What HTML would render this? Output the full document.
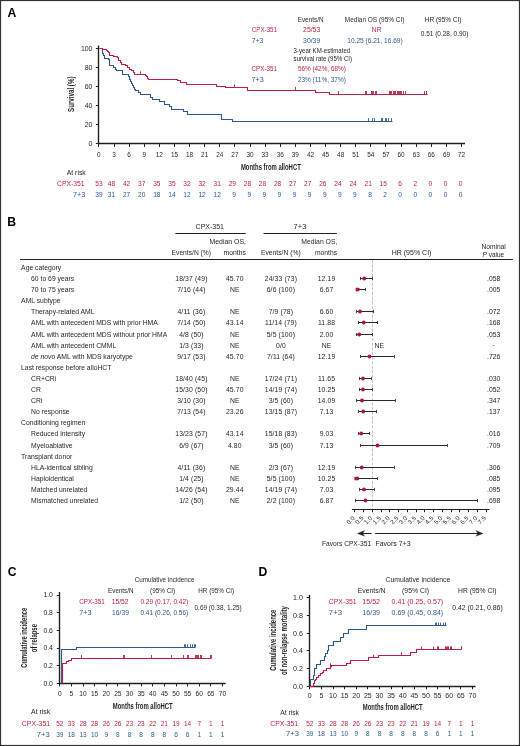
<!DOCTYPE html>
<html><head><meta charset="utf-8"><style>
html,body{margin:0;padding:0;background:#fff;}
svg{display:block;will-change:transform;filter:blur(0.35px);}
text{font-family:"Liberation Sans", sans-serif;}
</style></head><body>
<svg width="520" height="746" viewBox="0 0 520 746">
<rect width="520" height="746" fill="#fff"/>
<text x="7.40" y="16.50" font-size="12.2" fill="#000" font-weight="bold">A</text>
<text x="297.70" y="21.60" font-size="6.5" fill="#231f20" textLength="25.80" lengthAdjust="spacingAndGlyphs">Events/N</text>
<text x="344.80" y="21.60" font-size="6.5" fill="#231f20" textLength="59.70" lengthAdjust="spacingAndGlyphs">Median OS (95% CI)</text>
<text x="424.80" y="21.60" font-size="6.5" fill="#231f20" textLength="36.70" lengthAdjust="spacingAndGlyphs">HR (95% CI)</text>
<text x="251.70" y="31.90" font-size="6.5" fill="#bd1f40" textLength="25.40" lengthAdjust="spacingAndGlyphs">CPX-351</text>
<text x="303.10" y="31.90" font-size="6.5" fill="#bd1f40" textLength="17.10" lengthAdjust="spacingAndGlyphs">25/53</text>
<text x="371.80" y="31.90" font-size="6.5" fill="#bd1f40" textLength="9.70" lengthAdjust="spacingAndGlyphs">NR</text>
<text x="251.70" y="42.70" font-size="6.5" fill="#2e5990" textLength="11.60" lengthAdjust="spacingAndGlyphs">7+3</text>
<text x="303.10" y="42.70" font-size="6.5" fill="#2e5990" textLength="17.10" lengthAdjust="spacingAndGlyphs">30/39</text>
<text x="347.30" y="42.70" font-size="6.5" fill="#2e5990" textLength="55.40" lengthAdjust="spacingAndGlyphs">10.25 (6.21, 16.69)</text>
<text x="420.80" y="35.70" font-size="6.5" fill="#231f20" textLength="47.50" lengthAdjust="spacingAndGlyphs">0.51 (0.28, 0.90)</text>
<text x="293.60" y="53.10" font-size="6.5" fill="#231f20" textLength="56.60" lengthAdjust="spacingAndGlyphs">3-year KM-estimated</text>
<text x="293.60" y="60.90" font-size="6.5" fill="#231f20" textLength="58.50" lengthAdjust="spacingAndGlyphs">survival rate (95% CI)</text>
<text x="251.60" y="70.90" font-size="6.5" fill="#bd1f40" textLength="25.40" lengthAdjust="spacingAndGlyphs">CPX-351</text>
<text x="297.90" y="71.00" font-size="6.5" fill="#bd1f40" textLength="47.90" lengthAdjust="spacingAndGlyphs">56% (42%, 68%)</text>
<text x="251.60" y="81.50" font-size="6.5" fill="#2e5990" textLength="12.20" lengthAdjust="spacingAndGlyphs">7+3</text>
<text x="297.90" y="81.50" font-size="6.5" fill="#2e5990" textLength="47.90" lengthAdjust="spacingAndGlyphs">23% (11%, 37%)</text>
<line x1="98.50" y1="45.50" x2="98.50" y2="144.40" stroke="#231f20" stroke-width="1.4"/>
<line x1="98.30" y1="143.50" x2="465.00" y2="143.50" stroke="#231f20" stroke-width="1.4"/>
<line x1="95.90" y1="143.50" x2="98.90" y2="143.50" stroke="#231f20" stroke-width="1.0"/>
<text x="92.40" y="146.10" font-size="6.9" fill="#231f20" text-anchor="end">0</text>
<line x1="95.90" y1="124.50" x2="98.90" y2="124.50" stroke="#231f20" stroke-width="1.0"/>
<text x="92.40" y="127.00" font-size="6.9" fill="#231f20" text-anchor="end">20</text>
<line x1="95.90" y1="105.50" x2="98.90" y2="105.50" stroke="#231f20" stroke-width="1.0"/>
<text x="92.40" y="107.90" font-size="6.9" fill="#231f20" text-anchor="end">40</text>
<line x1="95.90" y1="86.50" x2="98.90" y2="86.50" stroke="#231f20" stroke-width="1.0"/>
<text x="92.40" y="88.80" font-size="6.9" fill="#231f20" text-anchor="end">60</text>
<line x1="95.90" y1="67.50" x2="98.90" y2="67.50" stroke="#231f20" stroke-width="1.0"/>
<text x="92.40" y="69.70" font-size="6.9" fill="#231f20" text-anchor="end">80</text>
<line x1="95.90" y1="48.50" x2="98.90" y2="48.50" stroke="#231f20" stroke-width="1.0"/>
<text x="92.40" y="50.60" font-size="6.9" fill="#231f20" text-anchor="end">100</text>
<line x1="98.50" y1="143.90" x2="98.50" y2="146.90" stroke="#231f20" stroke-width="1.0"/>
<text x="98.90" y="156.60" font-size="6.4" fill="#231f20" text-anchor="middle">0</text>
<line x1="114.50" y1="143.90" x2="114.50" y2="146.90" stroke="#231f20" stroke-width="1.0"/>
<text x="114.01" y="156.60" font-size="6.4" fill="#231f20" text-anchor="middle">3</text>
<line x1="129.50" y1="143.90" x2="129.50" y2="146.90" stroke="#231f20" stroke-width="1.0"/>
<text x="129.12" y="156.60" font-size="6.4" fill="#231f20" text-anchor="middle">6</text>
<line x1="144.50" y1="143.90" x2="144.50" y2="146.90" stroke="#231f20" stroke-width="1.0"/>
<text x="144.23" y="156.60" font-size="6.4" fill="#231f20" text-anchor="middle">9</text>
<line x1="159.50" y1="143.90" x2="159.50" y2="146.90" stroke="#231f20" stroke-width="1.0"/>
<text x="159.34" y="156.60" font-size="6.4" fill="#231f20" text-anchor="middle">12</text>
<line x1="174.50" y1="143.90" x2="174.50" y2="146.90" stroke="#231f20" stroke-width="1.0"/>
<text x="174.45" y="156.60" font-size="6.4" fill="#231f20" text-anchor="middle">15</text>
<line x1="189.50" y1="143.90" x2="189.50" y2="146.90" stroke="#231f20" stroke-width="1.0"/>
<text x="189.56" y="156.60" font-size="6.4" fill="#231f20" text-anchor="middle">18</text>
<line x1="204.50" y1="143.90" x2="204.50" y2="146.90" stroke="#231f20" stroke-width="1.0"/>
<text x="204.67" y="156.60" font-size="6.4" fill="#231f20" text-anchor="middle">21</text>
<line x1="219.50" y1="143.90" x2="219.50" y2="146.90" stroke="#231f20" stroke-width="1.0"/>
<text x="219.78" y="156.60" font-size="6.4" fill="#231f20" text-anchor="middle">24</text>
<line x1="234.50" y1="143.90" x2="234.50" y2="146.90" stroke="#231f20" stroke-width="1.0"/>
<text x="234.89" y="156.60" font-size="6.4" fill="#231f20" text-anchor="middle">27</text>
<line x1="250.50" y1="143.90" x2="250.50" y2="146.90" stroke="#231f20" stroke-width="1.0"/>
<text x="250.00" y="156.60" font-size="6.4" fill="#231f20" text-anchor="middle">30</text>
<line x1="265.50" y1="143.90" x2="265.50" y2="146.90" stroke="#231f20" stroke-width="1.0"/>
<text x="265.11" y="156.60" font-size="6.4" fill="#231f20" text-anchor="middle">33</text>
<line x1="280.50" y1="143.90" x2="280.50" y2="146.90" stroke="#231f20" stroke-width="1.0"/>
<text x="280.22" y="156.60" font-size="6.4" fill="#231f20" text-anchor="middle">36</text>
<line x1="295.50" y1="143.90" x2="295.50" y2="146.90" stroke="#231f20" stroke-width="1.0"/>
<text x="295.33" y="156.60" font-size="6.4" fill="#231f20" text-anchor="middle">39</text>
<line x1="310.50" y1="143.90" x2="310.50" y2="146.90" stroke="#231f20" stroke-width="1.0"/>
<text x="310.44" y="156.60" font-size="6.4" fill="#231f20" text-anchor="middle">42</text>
<line x1="325.50" y1="143.90" x2="325.50" y2="146.90" stroke="#231f20" stroke-width="1.0"/>
<text x="325.55" y="156.60" font-size="6.4" fill="#231f20" text-anchor="middle">45</text>
<line x1="340.50" y1="143.90" x2="340.50" y2="146.90" stroke="#231f20" stroke-width="1.0"/>
<text x="340.66" y="156.60" font-size="6.4" fill="#231f20" text-anchor="middle">48</text>
<line x1="355.50" y1="143.90" x2="355.50" y2="146.90" stroke="#231f20" stroke-width="1.0"/>
<text x="355.77" y="156.60" font-size="6.4" fill="#231f20" text-anchor="middle">51</text>
<line x1="370.50" y1="143.90" x2="370.50" y2="146.90" stroke="#231f20" stroke-width="1.0"/>
<text x="370.88" y="156.60" font-size="6.4" fill="#231f20" text-anchor="middle">54</text>
<line x1="385.50" y1="143.90" x2="385.50" y2="146.90" stroke="#231f20" stroke-width="1.0"/>
<text x="385.99" y="156.60" font-size="6.4" fill="#231f20" text-anchor="middle">57</text>
<line x1="401.50" y1="143.90" x2="401.50" y2="146.90" stroke="#231f20" stroke-width="1.0"/>
<text x="401.10" y="156.60" font-size="6.4" fill="#231f20" text-anchor="middle">60</text>
<line x1="416.50" y1="143.90" x2="416.50" y2="146.90" stroke="#231f20" stroke-width="1.0"/>
<text x="416.21" y="156.60" font-size="6.4" fill="#231f20" text-anchor="middle">63</text>
<line x1="431.50" y1="143.90" x2="431.50" y2="146.90" stroke="#231f20" stroke-width="1.0"/>
<text x="431.32" y="156.60" font-size="6.4" fill="#231f20" text-anchor="middle">66</text>
<line x1="446.50" y1="143.90" x2="446.50" y2="146.90" stroke="#231f20" stroke-width="1.0"/>
<text x="446.43" y="156.60" font-size="6.4" fill="#231f20" text-anchor="middle">69</text>
<line x1="461.50" y1="143.90" x2="461.50" y2="146.90" stroke="#231f20" stroke-width="1.0"/>
<text x="461.54" y="156.60" font-size="6.4" fill="#231f20" text-anchor="middle">72</text>
<text x="240.90" y="169.90" font-size="9.0" fill="#231f20" textLength="59.90" lengthAdjust="spacingAndGlyphs" font-weight="bold">Months from alloHCT</text>
<text x="74.20" y="112.00" font-size="9.4" fill="#231f20" textLength="35.50" lengthAdjust="spacingAndGlyphs" font-weight="bold" transform="rotate(-90 74.20 112.00)">Survival (%)</text>
<text x="66.70" y="174.80" font-size="6.6" fill="#231f20" textLength="19.10" lengthAdjust="spacingAndGlyphs">At risk</text>
<text x="57.10" y="186.10" font-size="6.6" fill="#bd1f40" textLength="27.50" lengthAdjust="spacingAndGlyphs">CPX-351</text>
<text x="72.90" y="196.90" font-size="6.6" fill="#2e5990" textLength="12.30" lengthAdjust="spacingAndGlyphs">7+3</text>
<text x="98.90" y="185.90" font-size="6.6" fill="#bd1f40" text-anchor="middle">53</text>
<text x="98.90" y="196.80" font-size="6.6" fill="#2e5990" text-anchor="middle">39</text>
<text x="115.20" y="185.90" font-size="6.6" fill="#bd1f40" text-anchor="end">48</text>
<text x="115.20" y="196.80" font-size="6.6" fill="#2e5990" text-anchor="end">31</text>
<text x="130.30" y="185.90" font-size="6.6" fill="#bd1f40" text-anchor="end">42</text>
<text x="130.30" y="196.80" font-size="6.6" fill="#2e5990" text-anchor="end">27</text>
<text x="145.39" y="185.90" font-size="6.6" fill="#bd1f40" text-anchor="end">37</text>
<text x="145.39" y="196.80" font-size="6.6" fill="#2e5990" text-anchor="end">20</text>
<text x="160.49" y="185.90" font-size="6.6" fill="#bd1f40" text-anchor="end">35</text>
<text x="160.49" y="196.80" font-size="6.6" fill="#2e5990" text-anchor="end">18</text>
<text x="175.59" y="185.90" font-size="6.6" fill="#bd1f40" text-anchor="end">35</text>
<text x="175.59" y="196.80" font-size="6.6" fill="#2e5990" text-anchor="end">14</text>
<text x="190.69" y="185.90" font-size="6.6" fill="#bd1f40" text-anchor="end">32</text>
<text x="190.69" y="196.80" font-size="6.6" fill="#2e5990" text-anchor="end">12</text>
<text x="205.78" y="185.90" font-size="6.6" fill="#bd1f40" text-anchor="end">32</text>
<text x="205.78" y="196.80" font-size="6.6" fill="#2e5990" text-anchor="end">12</text>
<text x="220.88" y="185.90" font-size="6.6" fill="#bd1f40" text-anchor="end">31</text>
<text x="220.88" y="196.80" font-size="6.6" fill="#2e5990" text-anchor="end">12</text>
<text x="235.98" y="185.90" font-size="6.6" fill="#bd1f40" text-anchor="end">29</text>
<text x="235.98" y="196.80" font-size="6.6" fill="#2e5990" text-anchor="end">9</text>
<text x="251.07" y="185.90" font-size="6.6" fill="#bd1f40" text-anchor="end">28</text>
<text x="251.07" y="196.80" font-size="6.6" fill="#2e5990" text-anchor="end">9</text>
<text x="266.17" y="185.90" font-size="6.6" fill="#bd1f40" text-anchor="end">28</text>
<text x="266.17" y="196.80" font-size="6.6" fill="#2e5990" text-anchor="end">9</text>
<text x="281.27" y="185.90" font-size="6.6" fill="#bd1f40" text-anchor="end">28</text>
<text x="281.27" y="196.80" font-size="6.6" fill="#2e5990" text-anchor="end">9</text>
<text x="296.36" y="185.90" font-size="6.6" fill="#bd1f40" text-anchor="end">27</text>
<text x="296.36" y="196.80" font-size="6.6" fill="#2e5990" text-anchor="end">9</text>
<text x="311.46" y="185.90" font-size="6.6" fill="#bd1f40" text-anchor="end">27</text>
<text x="311.46" y="196.80" font-size="6.6" fill="#2e5990" text-anchor="end">9</text>
<text x="326.56" y="185.90" font-size="6.6" fill="#bd1f40" text-anchor="end">26</text>
<text x="326.56" y="196.80" font-size="6.6" fill="#2e5990" text-anchor="end">9</text>
<text x="341.66" y="185.90" font-size="6.6" fill="#bd1f40" text-anchor="end">24</text>
<text x="341.66" y="196.80" font-size="6.6" fill="#2e5990" text-anchor="end">9</text>
<text x="356.75" y="185.90" font-size="6.6" fill="#bd1f40" text-anchor="end">24</text>
<text x="356.75" y="196.80" font-size="6.6" fill="#2e5990" text-anchor="end">9</text>
<text x="371.85" y="185.90" font-size="6.6" fill="#bd1f40" text-anchor="end">21</text>
<text x="371.85" y="196.80" font-size="6.6" fill="#2e5990" text-anchor="end">8</text>
<text x="386.95" y="185.90" font-size="6.6" fill="#bd1f40" text-anchor="end">15</text>
<text x="386.95" y="196.80" font-size="6.6" fill="#2e5990" text-anchor="end">2</text>
<text x="402.04" y="185.90" font-size="6.6" fill="#bd1f40" text-anchor="end">6</text>
<text x="402.04" y="196.80" font-size="6.6" fill="#2e5990" text-anchor="end">0</text>
<text x="417.14" y="185.90" font-size="6.6" fill="#bd1f40" text-anchor="end">2</text>
<text x="417.14" y="196.80" font-size="6.6" fill="#2e5990" text-anchor="end">0</text>
<text x="432.24" y="185.90" font-size="6.6" fill="#bd1f40" text-anchor="end">0</text>
<text x="432.24" y="196.80" font-size="6.6" fill="#2e5990" text-anchor="end">0</text>
<text x="447.33" y="185.90" font-size="6.6" fill="#bd1f40" text-anchor="end">0</text>
<text x="447.33" y="196.80" font-size="6.6" fill="#2e5990" text-anchor="end">0</text>
<text x="462.43" y="185.90" font-size="6.6" fill="#bd1f40" text-anchor="end">0</text>
<text x="462.43" y="196.80" font-size="6.6" fill="#2e5990" text-anchor="end">0</text>
<path d="M99.50,48.50 L101.50,48.50 H102.50 V50.50 H102.50 V53.50 H103.50 V55.50 H104.50 V58.50 L107.50,58.50 H108.50 V59.50 H109.50 V62.50 H109.50 V64.50 L109.50,65.50 L113.50,65.50 L113.50,67.50 H115.50 V69.50 H116.50 V70.50 L121.50,70.50 H122.50 V72.50 H122.50 V74.50 H128.50 V75.50 L128.50,76.50 H129.50 V79.50 H130.50 V81.50 H131.50 V83.50 H132.50 V85.50 H133.50 V87.50 H134.50 V89.50 H135.50 V90.50 H138.50 V92.50 H140.50 V94.50 L150.50,94.50 L150.50,97.50 H152.50 V99.50 L155.50,99.50 L159.50,99.50 L159.50,101.50 L164.50,101.50 L164.50,104.50 L169.50,104.50 L169.50,106.50 L171.50,106.50 L171.50,109.50 L183.50,109.50 L183.50,111.50 L187.50,111.50 L187.50,114.50 L221.50,114.50 L221.50,119.50 L232.50,119.50 L232.50,121.50 L392.50,121.50" stroke="#2e5990" stroke-width="1.1" fill="none"/>
<path d="M99.50,48.50 L101.50,48.50 H102.50 V49.50 H106.50 V50.50 H107.50 V51.50 H108.50 V52.50 H109.50 V54.50 H109.50 V55.50 H113.50 V56.50 H117.50 V57.50 H118.50 V59.50 H118.50 V60.50 H120.50 V62.50 H121.50 V64.50 H125.50 V65.50 H127.50 V67.50 H129.50 V69.50 H131.50 V70.50 H133.50 V72.50 H134.50 V74.50 H145.50 V75.50 H146.50 V76.50 H147.50 V78.50 H148.50 V79.50 L177.50,79.50 L177.50,80.50 L180.50,80.50 L180.50,82.50 L186.50,82.50 L186.50,84.50 L216.50,84.50 L216.50,86.50 L225.50,86.50 L225.50,87.50 L247.50,87.50 L247.50,90.50 L315.50,90.50 L315.50,92.50 L329.50,92.50 L329.50,94.50 L427.50,94.50" stroke="#bd1f40" stroke-width="1.1" fill="none"/>
<line x1="140.50" y1="71.40" x2="140.50" y2="74.60" stroke="#bd1f40" stroke-width="0.9"/>
<line x1="234.50" y1="84.30" x2="234.50" y2="87.50" stroke="#bd1f40" stroke-width="0.9"/>
<line x1="295.50" y1="86.80" x2="295.50" y2="90.00" stroke="#bd1f40" stroke-width="0.9"/>
<line x1="338.50" y1="91.00" x2="338.50" y2="94.20" stroke="#bd1f40" stroke-width="0.9"/>
<line x1="365.50" y1="91.00" x2="365.50" y2="94.20" stroke="#bd1f40" stroke-width="0.9"/>
<line x1="366.50" y1="91.00" x2="366.50" y2="94.20" stroke="#bd1f40" stroke-width="0.9"/>
<line x1="371.50" y1="91.00" x2="371.50" y2="94.20" stroke="#bd1f40" stroke-width="0.9"/>
<line x1="372.50" y1="91.00" x2="372.50" y2="94.20" stroke="#bd1f40" stroke-width="0.9"/>
<line x1="373.50" y1="91.00" x2="373.50" y2="94.20" stroke="#bd1f40" stroke-width="0.9"/>
<line x1="375.50" y1="91.00" x2="375.50" y2="94.20" stroke="#bd1f40" stroke-width="0.9"/>
<line x1="376.50" y1="91.00" x2="376.50" y2="94.20" stroke="#bd1f40" stroke-width="0.9"/>
<line x1="389.50" y1="91.00" x2="389.50" y2="94.20" stroke="#bd1f40" stroke-width="0.9"/>
<line x1="390.50" y1="91.00" x2="390.50" y2="94.20" stroke="#bd1f40" stroke-width="0.9"/>
<line x1="391.50" y1="91.00" x2="391.50" y2="94.20" stroke="#bd1f40" stroke-width="0.9"/>
<line x1="393.50" y1="91.00" x2="393.50" y2="94.20" stroke="#bd1f40" stroke-width="0.9"/>
<line x1="394.50" y1="91.00" x2="394.50" y2="94.20" stroke="#bd1f40" stroke-width="0.9"/>
<line x1="395.50" y1="91.00" x2="395.50" y2="94.20" stroke="#bd1f40" stroke-width="0.9"/>
<line x1="397.50" y1="91.00" x2="397.50" y2="94.20" stroke="#bd1f40" stroke-width="0.9"/>
<line x1="398.50" y1="91.00" x2="398.50" y2="94.20" stroke="#bd1f40" stroke-width="0.9"/>
<line x1="399.50" y1="91.00" x2="399.50" y2="94.20" stroke="#bd1f40" stroke-width="0.9"/>
<line x1="400.50" y1="91.00" x2="400.50" y2="94.20" stroke="#bd1f40" stroke-width="0.9"/>
<line x1="401.50" y1="91.00" x2="401.50" y2="94.20" stroke="#bd1f40" stroke-width="0.9"/>
<line x1="403.50" y1="91.00" x2="403.50" y2="94.20" stroke="#bd1f40" stroke-width="0.9"/>
<line x1="405.50" y1="91.00" x2="405.50" y2="94.20" stroke="#bd1f40" stroke-width="0.9"/>
<line x1="424.50" y1="91.00" x2="424.50" y2="94.20" stroke="#bd1f40" stroke-width="0.9"/>
<line x1="426.50" y1="91.00" x2="426.50" y2="94.20" stroke="#bd1f40" stroke-width="0.9"/>
<line x1="368.50" y1="118.10" x2="368.50" y2="121.25" stroke="#2e5990" stroke-width="0.9"/>
<line x1="372.50" y1="118.10" x2="372.50" y2="121.25" stroke="#2e5990" stroke-width="0.9"/>
<line x1="374.50" y1="118.10" x2="374.50" y2="121.25" stroke="#2e5990" stroke-width="0.9"/>
<line x1="381.50" y1="118.10" x2="381.50" y2="121.25" stroke="#2e5990" stroke-width="0.9"/>
<line x1="382.50" y1="118.10" x2="382.50" y2="121.25" stroke="#2e5990" stroke-width="0.9"/>
<line x1="385.50" y1="118.10" x2="385.50" y2="121.25" stroke="#2e5990" stroke-width="0.9"/>
<line x1="386.50" y1="118.10" x2="386.50" y2="121.25" stroke="#2e5990" stroke-width="0.9"/>
<line x1="388.50" y1="118.10" x2="388.50" y2="121.25" stroke="#2e5990" stroke-width="0.9"/>
<line x1="391.50" y1="118.10" x2="391.50" y2="121.25" stroke="#2e5990" stroke-width="0.9"/>
<text x="7.20" y="226.30" font-size="12.2" fill="#000" font-weight="bold">B</text>
<text x="195.60" y="229.00" font-size="6.6" fill="#231f20" textLength="28.40" lengthAdjust="spacingAndGlyphs">CPX-351</text>
<line x1="175.40" y1="233.50" x2="245.70" y2="233.50" stroke="#231f20" stroke-width="1.1"/>
<text x="293.60" y="229.00" font-size="6.6" fill="#231f20" textLength="12.80" lengthAdjust="spacingAndGlyphs">7+3</text>
<line x1="263.50" y1="233.50" x2="336.90" y2="233.50" stroke="#231f20" stroke-width="1.1"/>
<text x="209.50" y="243.80" font-size="6.6" fill="#231f20" textLength="36.40" lengthAdjust="spacingAndGlyphs">Median OS,</text>
<text x="301.30" y="243.80" font-size="6.6" fill="#231f20" textLength="36.10" lengthAdjust="spacingAndGlyphs">Median OS,</text>
<text x="171.60" y="254.60" font-size="6.6" fill="#231f20" textLength="39.40" lengthAdjust="spacingAndGlyphs">Events/N (%)</text>
<text x="223.60" y="254.60" font-size="6.6" fill="#231f20" textLength="22.30" lengthAdjust="spacingAndGlyphs">months</text>
<text x="260.90" y="254.60" font-size="6.6" fill="#231f20" textLength="39.80" lengthAdjust="spacingAndGlyphs">Events/N (%)</text>
<text x="314.90" y="254.60" font-size="6.6" fill="#231f20" textLength="22.20" lengthAdjust="spacingAndGlyphs">months</text>
<text x="391.70" y="255.00" font-size="6.6" fill="#231f20" textLength="39.75" lengthAdjust="spacingAndGlyphs">HR (95% CI)</text>
<text x="481.40" y="248.50" font-size="6.6" fill="#231f20" textLength="24.40" lengthAdjust="spacingAndGlyphs">Nominal</text>
<text x="482.60" y="256.90" font-size="6.6" fill="#231f20" textLength="21.60" lengthAdjust="spacingAndGlyphs"><tspan font-style="italic">P</tspan> value</text>
<line x1="20.00" y1="259.50" x2="512.80" y2="259.50" stroke="#231f20" stroke-width="1.2"/>
<line x1="372.50" y1="259.90" x2="372.50" y2="509.00" stroke="#b4b4b4" stroke-width="0.8" stroke-dasharray="3,1.6"/>
<text x="21.10" y="270.00" font-size="6.8" fill="#231f20">Age category</text>
<text x="31.10" y="281.10" font-size="6.8" fill="#231f20">60 to 69 years</text>
<text x="191.40" y="281.10" font-size="6.8" fill="#231f20" text-anchor="middle" letter-spacing="0.13">18/37 (49)</text>
<text x="234.80" y="281.10" font-size="6.8" fill="#231f20" text-anchor="middle" letter-spacing="0.13">45.70</text>
<text x="280.90" y="281.10" font-size="6.8" fill="#231f20" text-anchor="middle" letter-spacing="0.13">24/33 (73)</text>
<text x="326.50" y="281.10" font-size="6.8" fill="#231f20" text-anchor="middle" letter-spacing="0.13">12.19</text>
<text x="493.70" y="281.10" font-size="6.8" fill="#231f20" text-anchor="middle">.058</text>
<line x1="360.00" y1="278.50" x2="372.50" y2="278.50" stroke="#2a2a2a" stroke-width="1.0"/>
<line x1="360.50" y1="276.90" x2="360.50" y2="280.10" stroke="#333" stroke-width="0.9"/>
<line x1="372.50" y1="276.90" x2="372.50" y2="280.10" stroke="#333" stroke-width="0.9"/>
<circle cx="364.25" cy="278.50" r="1.95" fill="#a8173c"/>
<text x="31.10" y="292.19" font-size="6.8" fill="#231f20">70 to 75 years</text>
<text x="191.40" y="292.19" font-size="6.8" fill="#231f20" text-anchor="middle" letter-spacing="0.13">7/16 (44)</text>
<text x="234.80" y="292.19" font-size="6.8" fill="#231f20" text-anchor="middle" letter-spacing="0.13">NE</text>
<text x="280.90" y="292.19" font-size="6.8" fill="#231f20" text-anchor="middle" letter-spacing="0.13">6/6 (100)</text>
<text x="326.50" y="292.19" font-size="6.8" fill="#231f20" text-anchor="middle" letter-spacing="0.13">6.67</text>
<text x="493.70" y="292.19" font-size="6.8" fill="#231f20" text-anchor="middle">.005</text>
<line x1="356.25" y1="289.50" x2="365.50" y2="289.50" stroke="#2a2a2a" stroke-width="1.0"/>
<line x1="356.50" y1="287.90" x2="356.50" y2="291.10" stroke="#333" stroke-width="0.9"/>
<line x1="365.50" y1="287.90" x2="365.50" y2="291.10" stroke="#333" stroke-width="0.9"/>
<rect x="355.65" y="287.80" width="3.85" height="3.4" rx="0.8" fill="#a8173c"/>
<text x="21.10" y="303.29" font-size="6.8" fill="#231f20">AML subtype</text>
<text x="31.10" y="314.38" font-size="6.8" fill="#231f20">Therapy-related AML</text>
<text x="191.40" y="314.38" font-size="6.8" fill="#231f20" text-anchor="middle" letter-spacing="0.13">4/11 (36)</text>
<text x="234.80" y="314.38" font-size="6.8" fill="#231f20" text-anchor="middle" letter-spacing="0.13">NE</text>
<text x="280.90" y="314.38" font-size="6.8" fill="#231f20" text-anchor="middle" letter-spacing="0.13">7/9 (78)</text>
<text x="326.50" y="314.38" font-size="6.8" fill="#231f20" text-anchor="middle" letter-spacing="0.13">6.60</text>
<text x="493.70" y="314.38" font-size="6.8" fill="#231f20" text-anchor="middle">.072</text>
<line x1="356.75" y1="311.50" x2="373.75" y2="311.50" stroke="#2a2a2a" stroke-width="1.0"/>
<line x1="356.50" y1="309.90" x2="356.50" y2="313.10" stroke="#333" stroke-width="0.9"/>
<line x1="373.50" y1="309.90" x2="373.50" y2="313.10" stroke="#333" stroke-width="0.9"/>
<circle cx="360.00" cy="311.50" r="1.95" fill="#a8173c"/>
<text x="31.10" y="325.48" font-size="6.8" fill="#231f20">AML with antecedent MDS with prior HMA</text>
<text x="191.40" y="325.48" font-size="6.8" fill="#231f20" text-anchor="middle" letter-spacing="0.13">7/14 (50)</text>
<text x="234.80" y="325.48" font-size="6.8" fill="#231f20" text-anchor="middle" letter-spacing="0.13">43.14</text>
<text x="280.90" y="325.48" font-size="6.8" fill="#231f20" text-anchor="middle" letter-spacing="0.13">11/14 (79)</text>
<text x="326.50" y="325.48" font-size="6.8" fill="#231f20" text-anchor="middle" letter-spacing="0.13">11.88</text>
<text x="493.70" y="325.48" font-size="6.8" fill="#231f20" text-anchor="middle">.168</text>
<line x1="358.75" y1="322.50" x2="377.50" y2="322.50" stroke="#2a2a2a" stroke-width="1.0"/>
<line x1="358.50" y1="320.90" x2="358.50" y2="324.10" stroke="#333" stroke-width="0.9"/>
<line x1="377.50" y1="320.90" x2="377.50" y2="324.10" stroke="#333" stroke-width="0.9"/>
<circle cx="363.75" cy="322.50" r="1.95" fill="#a8173c"/>
<text x="31.10" y="336.57" font-size="6.8" fill="#231f20">AML with antecedent MDS without prior HMA</text>
<text x="191.40" y="336.57" font-size="6.8" fill="#231f20" text-anchor="middle" letter-spacing="0.13">4/8 (50)</text>
<text x="234.80" y="336.57" font-size="6.8" fill="#231f20" text-anchor="middle" letter-spacing="0.13">NE</text>
<text x="280.90" y="336.57" font-size="6.8" fill="#231f20" text-anchor="middle" letter-spacing="0.13">5/5 (100)</text>
<text x="326.50" y="336.57" font-size="6.8" fill="#231f20" text-anchor="middle" letter-spacing="0.13">2.00</text>
<text x="493.70" y="336.57" font-size="6.8" fill="#231f20" text-anchor="middle">.053</text>
<line x1="356.25" y1="334.50" x2="372.50" y2="334.50" stroke="#2a2a2a" stroke-width="1.0"/>
<line x1="356.50" y1="332.90" x2="356.50" y2="336.10" stroke="#333" stroke-width="0.9"/>
<line x1="372.50" y1="332.90" x2="372.50" y2="336.10" stroke="#333" stroke-width="0.9"/>
<circle cx="359.25" cy="334.50" r="1.95" fill="#a8173c"/>
<text x="31.10" y="347.67" font-size="6.8" fill="#231f20">AML with antecedent CMML</text>
<text x="191.40" y="347.67" font-size="6.8" fill="#231f20" text-anchor="middle" letter-spacing="0.13">1/3 (33)</text>
<text x="234.80" y="347.67" font-size="6.8" fill="#231f20" text-anchor="middle" letter-spacing="0.13">NE</text>
<text x="280.90" y="347.67" font-size="6.8" fill="#231f20" text-anchor="middle" letter-spacing="0.13">0/0</text>
<text x="326.50" y="347.67" font-size="6.8" fill="#231f20" text-anchor="middle" letter-spacing="0.13">NE</text>
<line x1="492.90" y1="345.50" x2="494.30" y2="345.50" stroke="#231f20" stroke-width="0.6"/>
<text x="374.50" y="347.67" font-size="6.8" fill="#231f20">NE</text>
<text x="31.10" y="358.76" font-size="6.8" fill="#231f20"><tspan font-style="italic">de novo</tspan> AML with MDS karyotype</text>
<text x="191.40" y="358.76" font-size="6.8" fill="#231f20" text-anchor="middle" letter-spacing="0.13">9/17 (53)</text>
<text x="234.80" y="358.76" font-size="6.8" fill="#231f20" text-anchor="middle" letter-spacing="0.13">45.70</text>
<text x="280.90" y="358.76" font-size="6.8" fill="#231f20" text-anchor="middle" letter-spacing="0.13">7/11 (64)</text>
<text x="326.50" y="358.76" font-size="6.8" fill="#231f20" text-anchor="middle" letter-spacing="0.13">12.19</text>
<text x="493.70" y="358.76" font-size="6.8" fill="#231f20" text-anchor="middle">.726</text>
<line x1="360.50" y1="356.50" x2="394.50" y2="356.50" stroke="#2a2a2a" stroke-width="1.0"/>
<line x1="360.50" y1="354.90" x2="360.50" y2="358.10" stroke="#333" stroke-width="0.9"/>
<line x1="394.50" y1="354.90" x2="394.50" y2="358.10" stroke="#333" stroke-width="0.9"/>
<circle cx="369.50" cy="356.50" r="1.95" fill="#a8173c"/>
<text x="21.10" y="369.86" font-size="6.8" fill="#231f20">Last response before alloHCT</text>
<text x="31.10" y="380.95" font-size="6.8" fill="#231f20">CR+CRi</text>
<text x="191.40" y="380.95" font-size="6.8" fill="#231f20" text-anchor="middle" letter-spacing="0.13">18/40 (45)</text>
<text x="234.80" y="380.95" font-size="6.8" fill="#231f20" text-anchor="middle" letter-spacing="0.13">NE</text>
<text x="280.90" y="380.95" font-size="6.8" fill="#231f20" text-anchor="middle" letter-spacing="0.13">17/24 (71)</text>
<text x="326.50" y="380.95" font-size="6.8" fill="#231f20" text-anchor="middle" letter-spacing="0.13">11.65</text>
<text x="493.70" y="380.95" font-size="6.8" fill="#231f20" text-anchor="middle">.030</text>
<line x1="359.50" y1="378.50" x2="371.25" y2="378.50" stroke="#2a2a2a" stroke-width="1.0"/>
<line x1="359.50" y1="376.90" x2="359.50" y2="380.10" stroke="#333" stroke-width="0.9"/>
<line x1="371.50" y1="376.90" x2="371.50" y2="380.10" stroke="#333" stroke-width="0.9"/>
<circle cx="363.00" cy="378.50" r="1.95" fill="#a8173c"/>
<text x="31.10" y="392.05" font-size="6.8" fill="#231f20">CR</text>
<text x="191.40" y="392.05" font-size="6.8" fill="#231f20" text-anchor="middle" letter-spacing="0.13">15/30 (50)</text>
<text x="234.80" y="392.05" font-size="6.8" fill="#231f20" text-anchor="middle" letter-spacing="0.13">45.70</text>
<text x="280.90" y="392.05" font-size="6.8" fill="#231f20" text-anchor="middle" letter-spacing="0.13">14/19 (74)</text>
<text x="326.50" y="392.05" font-size="6.8" fill="#231f20" text-anchor="middle" letter-spacing="0.13">10.25</text>
<text x="493.70" y="392.05" font-size="6.8" fill="#231f20" text-anchor="middle">.052</text>
<line x1="359.25" y1="389.50" x2="372.50" y2="389.50" stroke="#2a2a2a" stroke-width="1.0"/>
<line x1="359.50" y1="387.90" x2="359.50" y2="391.10" stroke="#333" stroke-width="0.9"/>
<line x1="372.50" y1="387.90" x2="372.50" y2="391.10" stroke="#333" stroke-width="0.9"/>
<circle cx="363.00" cy="389.50" r="1.95" fill="#a8173c"/>
<text x="31.10" y="403.14" font-size="6.8" fill="#231f20">CRi</text>
<text x="191.40" y="403.14" font-size="6.8" fill="#231f20" text-anchor="middle" letter-spacing="0.13">3/10 (30)</text>
<text x="234.80" y="403.14" font-size="6.8" fill="#231f20" text-anchor="middle" letter-spacing="0.13">NE</text>
<text x="280.90" y="403.14" font-size="6.8" fill="#231f20" text-anchor="middle" letter-spacing="0.13">3/5 (60)</text>
<text x="326.50" y="403.14" font-size="6.8" fill="#231f20" text-anchor="middle" letter-spacing="0.13">14.09</text>
<text x="493.70" y="403.14" font-size="6.8" fill="#231f20" text-anchor="middle">.347</text>
<line x1="356.25" y1="400.50" x2="395.00" y2="400.50" stroke="#2a2a2a" stroke-width="1.0"/>
<line x1="356.50" y1="398.90" x2="356.50" y2="402.10" stroke="#333" stroke-width="0.9"/>
<line x1="395.50" y1="398.90" x2="395.50" y2="402.10" stroke="#333" stroke-width="0.9"/>
<circle cx="362.00" cy="400.50" r="1.95" fill="#a8173c"/>
<text x="31.10" y="414.24" font-size="6.8" fill="#231f20">No response</text>
<text x="191.40" y="414.24" font-size="6.8" fill="#231f20" text-anchor="middle" letter-spacing="0.13">7/13 (54)</text>
<text x="234.80" y="414.24" font-size="6.8" fill="#231f20" text-anchor="middle" letter-spacing="0.13">23.26</text>
<text x="280.90" y="414.24" font-size="6.8" fill="#231f20" text-anchor="middle" letter-spacing="0.13">13/15 (87)</text>
<text x="326.50" y="414.24" font-size="6.8" fill="#231f20" text-anchor="middle" letter-spacing="0.13">7.13</text>
<text x="493.70" y="414.24" font-size="6.8" fill="#231f20" text-anchor="middle">.137</text>
<line x1="358.75" y1="411.50" x2="376.25" y2="411.50" stroke="#2a2a2a" stroke-width="1.0"/>
<line x1="358.50" y1="409.90" x2="358.50" y2="413.10" stroke="#333" stroke-width="0.9"/>
<line x1="376.50" y1="409.90" x2="376.50" y2="413.10" stroke="#333" stroke-width="0.9"/>
<circle cx="363.25" cy="411.50" r="1.95" fill="#a8173c"/>
<text x="21.10" y="425.33" font-size="6.8" fill="#231f20">Conditioning regimen</text>
<text x="31.10" y="436.43" font-size="6.8" fill="#231f20">Reduced intensity</text>
<text x="191.40" y="436.43" font-size="6.8" fill="#231f20" text-anchor="middle" letter-spacing="0.13">13/23 (57)</text>
<text x="234.80" y="436.43" font-size="6.8" fill="#231f20" text-anchor="middle" letter-spacing="0.13">43.14</text>
<text x="280.90" y="436.43" font-size="6.8" fill="#231f20" text-anchor="middle" letter-spacing="0.13">15/18 (83)</text>
<text x="326.50" y="436.43" font-size="6.8" fill="#231f20" text-anchor="middle" letter-spacing="0.13">9.03</text>
<text x="493.70" y="436.43" font-size="6.8" fill="#231f20" text-anchor="middle">.016</text>
<line x1="358.75" y1="433.50" x2="369.25" y2="433.50" stroke="#2a2a2a" stroke-width="1.0"/>
<line x1="358.50" y1="431.90" x2="358.50" y2="435.10" stroke="#333" stroke-width="0.9"/>
<line x1="369.50" y1="431.90" x2="369.50" y2="435.10" stroke="#333" stroke-width="0.9"/>
<circle cx="361.25" cy="433.50" r="1.95" fill="#a8173c"/>
<text x="31.10" y="447.52" font-size="6.8" fill="#231f20">Myeloablative</text>
<text x="191.40" y="447.52" font-size="6.8" fill="#231f20" text-anchor="middle" letter-spacing="0.13">6/9 (67)</text>
<text x="234.80" y="447.52" font-size="6.8" fill="#231f20" text-anchor="middle" letter-spacing="0.13">4.80</text>
<text x="280.90" y="447.52" font-size="6.8" fill="#231f20" text-anchor="middle" letter-spacing="0.13">3/5 (60)</text>
<text x="326.50" y="447.52" font-size="6.8" fill="#231f20" text-anchor="middle" letter-spacing="0.13">7.13</text>
<text x="493.70" y="447.52" font-size="6.8" fill="#231f20" text-anchor="middle">.709</text>
<line x1="360.50" y1="445.50" x2="447.00" y2="445.50" stroke="#2a2a2a" stroke-width="1.0"/>
<line x1="360.50" y1="443.90" x2="360.50" y2="447.10" stroke="#333" stroke-width="0.9"/>
<line x1="447.50" y1="443.90" x2="447.50" y2="447.10" stroke="#333" stroke-width="0.9"/>
<circle cx="377.50" cy="445.50" r="1.95" fill="#a8173c"/>
<text x="21.10" y="458.62" font-size="6.8" fill="#231f20">Transplant donor</text>
<text x="31.10" y="469.71" font-size="6.8" fill="#231f20">HLA-identical sibling</text>
<text x="191.40" y="469.71" font-size="6.8" fill="#231f20" text-anchor="middle" letter-spacing="0.13">4/11 (36)</text>
<text x="234.80" y="469.71" font-size="6.8" fill="#231f20" text-anchor="middle" letter-spacing="0.13">NE</text>
<text x="280.90" y="469.71" font-size="6.8" fill="#231f20" text-anchor="middle" letter-spacing="0.13">2/3 (67)</text>
<text x="326.50" y="469.71" font-size="6.8" fill="#231f20" text-anchor="middle" letter-spacing="0.13">12.19</text>
<text x="493.70" y="469.71" font-size="6.8" fill="#231f20" text-anchor="middle">.306</text>
<line x1="355.75" y1="467.50" x2="394.50" y2="467.50" stroke="#2a2a2a" stroke-width="1.0"/>
<line x1="355.50" y1="465.90" x2="355.50" y2="469.10" stroke="#333" stroke-width="0.9"/>
<line x1="394.50" y1="465.90" x2="394.50" y2="469.10" stroke="#333" stroke-width="0.9"/>
<circle cx="361.75" cy="467.50" r="1.95" fill="#a8173c"/>
<text x="31.10" y="480.81" font-size="6.8" fill="#231f20">Haploidentical</text>
<text x="191.40" y="480.81" font-size="6.8" fill="#231f20" text-anchor="middle" letter-spacing="0.13">1/4 (25)</text>
<text x="234.80" y="480.81" font-size="6.8" fill="#231f20" text-anchor="middle" letter-spacing="0.13">NE</text>
<text x="280.90" y="480.81" font-size="6.8" fill="#231f20" text-anchor="middle" letter-spacing="0.13">5/5 (100)</text>
<text x="326.50" y="480.81" font-size="6.8" fill="#231f20" text-anchor="middle" letter-spacing="0.13">10.25</text>
<text x="493.70" y="480.81" font-size="6.8" fill="#231f20" text-anchor="middle">.085</text>
<line x1="355.00" y1="478.50" x2="377.50" y2="478.50" stroke="#2a2a2a" stroke-width="1.0"/>
<line x1="355.50" y1="476.90" x2="355.50" y2="480.10" stroke="#333" stroke-width="0.9"/>
<line x1="377.50" y1="476.90" x2="377.50" y2="480.10" stroke="#333" stroke-width="0.9"/>
<rect x="354.40" y="476.80" width="4.60" height="3.4" rx="0.8" fill="#a8173c"/>
<text x="31.10" y="491.90" font-size="6.8" fill="#231f20">Matched unrelated</text>
<text x="191.40" y="491.90" font-size="6.8" fill="#231f20" text-anchor="middle" letter-spacing="0.13">14/26 (54)</text>
<text x="234.80" y="491.90" font-size="6.8" fill="#231f20" text-anchor="middle" letter-spacing="0.13">29.44</text>
<text x="280.90" y="491.90" font-size="6.8" fill="#231f20" text-anchor="middle" letter-spacing="0.13">14/19 (74)</text>
<text x="326.50" y="491.90" font-size="6.8" fill="#231f20" text-anchor="middle" letter-spacing="0.13">7.03</text>
<text x="493.70" y="491.90" font-size="6.8" fill="#231f20" text-anchor="middle">.095</text>
<line x1="359.50" y1="489.50" x2="374.25" y2="489.50" stroke="#2a2a2a" stroke-width="1.0"/>
<line x1="359.50" y1="487.90" x2="359.50" y2="491.10" stroke="#333" stroke-width="0.9"/>
<line x1="374.50" y1="487.90" x2="374.50" y2="491.10" stroke="#333" stroke-width="0.9"/>
<circle cx="364.00" cy="489.50" r="1.95" fill="#a8173c"/>
<text x="31.10" y="503.00" font-size="6.8" fill="#231f20">Mismatched unrelated</text>
<text x="191.40" y="503.00" font-size="6.8" fill="#231f20" text-anchor="middle" letter-spacing="0.13">1/2 (50)</text>
<text x="234.80" y="503.00" font-size="6.8" fill="#231f20" text-anchor="middle" letter-spacing="0.13">NE</text>
<text x="280.90" y="503.00" font-size="6.8" fill="#231f20" text-anchor="middle" letter-spacing="0.13">2/2 (100)</text>
<text x="326.50" y="503.00" font-size="6.8" fill="#231f20" text-anchor="middle" letter-spacing="0.13">6.87</text>
<text x="493.70" y="503.00" font-size="6.8" fill="#231f20" text-anchor="middle">.698</text>
<line x1="355.50" y1="500.50" x2="477.50" y2="500.50" stroke="#2a2a2a" stroke-width="1.0"/>
<line x1="355.50" y1="498.90" x2="355.50" y2="502.10" stroke="#333" stroke-width="0.9"/>
<line x1="477.50" y1="498.90" x2="477.50" y2="502.10" stroke="#333" stroke-width="0.9"/>
<circle cx="365.50" cy="500.50" r="1.95" fill="#a8173c"/>
<line x1="351.90" y1="509.50" x2="489.40" y2="509.50" stroke="#231f20" stroke-width="1.2"/>
<line x1="354.50" y1="509.40" x2="354.50" y2="512.20" stroke="#231f20" stroke-width="1.0"/>
<text x="355.15" y="518.60" font-size="6.2" fill="#231f20" text-anchor="end" transform="rotate(-45 355.15 518.60)">0.0</text>
<line x1="363.50" y1="509.40" x2="363.50" y2="512.20" stroke="#231f20" stroke-width="1.0"/>
<text x="363.90" y="518.60" font-size="6.2" fill="#231f20" text-anchor="end" transform="rotate(-45 363.90 518.60)">0.5</text>
<line x1="372.50" y1="509.40" x2="372.50" y2="512.20" stroke="#231f20" stroke-width="1.0"/>
<text x="372.65" y="518.60" font-size="6.2" fill="#231f20" text-anchor="end" transform="rotate(-45 372.65 518.60)">1.0</text>
<line x1="381.50" y1="509.40" x2="381.50" y2="512.20" stroke="#231f20" stroke-width="1.0"/>
<text x="381.40" y="518.60" font-size="6.2" fill="#231f20" text-anchor="end" transform="rotate(-45 381.40 518.60)">1.5</text>
<line x1="389.50" y1="509.40" x2="389.50" y2="512.20" stroke="#231f20" stroke-width="1.0"/>
<text x="390.15" y="518.60" font-size="6.2" fill="#231f20" text-anchor="end" transform="rotate(-45 390.15 518.60)">2.0</text>
<line x1="398.50" y1="509.40" x2="398.50" y2="512.20" stroke="#231f20" stroke-width="1.0"/>
<text x="398.90" y="518.60" font-size="6.2" fill="#231f20" text-anchor="end" transform="rotate(-45 398.90 518.60)">2.5</text>
<line x1="407.50" y1="509.40" x2="407.50" y2="512.20" stroke="#231f20" stroke-width="1.0"/>
<text x="407.65" y="518.60" font-size="6.2" fill="#231f20" text-anchor="end" transform="rotate(-45 407.65 518.60)">3.0</text>
<line x1="416.50" y1="509.40" x2="416.50" y2="512.20" stroke="#231f20" stroke-width="1.0"/>
<text x="416.40" y="518.60" font-size="6.2" fill="#231f20" text-anchor="end" transform="rotate(-45 416.40 518.60)">3.5</text>
<line x1="424.50" y1="509.40" x2="424.50" y2="512.20" stroke="#231f20" stroke-width="1.0"/>
<text x="425.15" y="518.60" font-size="6.2" fill="#231f20" text-anchor="end" transform="rotate(-45 425.15 518.60)">4.0</text>
<line x1="433.50" y1="509.40" x2="433.50" y2="512.20" stroke="#231f20" stroke-width="1.0"/>
<text x="433.90" y="518.60" font-size="6.2" fill="#231f20" text-anchor="end" transform="rotate(-45 433.90 518.60)">4.5</text>
<line x1="442.50" y1="509.40" x2="442.50" y2="512.20" stroke="#231f20" stroke-width="1.0"/>
<text x="442.65" y="518.60" font-size="6.2" fill="#231f20" text-anchor="end" transform="rotate(-45 442.65 518.60)">5.0</text>
<line x1="451.50" y1="509.40" x2="451.50" y2="512.20" stroke="#231f20" stroke-width="1.0"/>
<text x="451.40" y="518.60" font-size="6.2" fill="#231f20" text-anchor="end" transform="rotate(-45 451.40 518.60)">5.5</text>
<line x1="459.50" y1="509.40" x2="459.50" y2="512.20" stroke="#231f20" stroke-width="1.0"/>
<text x="460.15" y="518.60" font-size="6.2" fill="#231f20" text-anchor="end" transform="rotate(-45 460.15 518.60)">6.0</text>
<line x1="468.50" y1="509.40" x2="468.50" y2="512.20" stroke="#231f20" stroke-width="1.0"/>
<text x="468.90" y="518.60" font-size="6.2" fill="#231f20" text-anchor="end" transform="rotate(-45 468.90 518.60)">6.5</text>
<line x1="477.50" y1="509.40" x2="477.50" y2="512.20" stroke="#231f20" stroke-width="1.0"/>
<text x="477.65" y="518.60" font-size="6.2" fill="#231f20" text-anchor="end" transform="rotate(-45 477.65 518.60)">7.0</text>
<line x1="486.50" y1="509.40" x2="486.50" y2="512.20" stroke="#231f20" stroke-width="1.0"/>
<text x="486.40" y="518.60" font-size="6.2" fill="#231f20" text-anchor="end" transform="rotate(-45 486.40 518.60)">7.5</text>
<line x1="361.00" y1="533.50" x2="371.60" y2="533.50" stroke="#231f20" stroke-width="1.1"/>
<path d="M357.4,533.4 L364.6,530.6 L362.6,533.4 L364.6,536.2 Z" stroke="#231f20" stroke-width="0.3" fill="#231f20"/>
<line x1="375.10" y1="533.50" x2="479.50" y2="533.50" stroke="#231f20" stroke-width="1.1"/>
<path d="M483.1,533.4 L475.9,530.6 L477.9,533.4 L475.9,536.2 Z" stroke="#231f20" stroke-width="0.3" fill="#231f20"/>
<text x="322.00" y="546.20" font-size="6.6" fill="#231f20" textLength="49.10" lengthAdjust="spacingAndGlyphs">Favors CPX-351</text>
<text x="375.50" y="546.20" font-size="6.6" fill="#231f20" textLength="35.00" lengthAdjust="spacingAndGlyphs">Favors 7+3</text>
<text x="7.80" y="576.30" font-size="12.2" fill="#000" font-weight="bold">C</text>
<line x1="59.50" y1="592.00" x2="59.50" y2="683.90" stroke="#231f20" stroke-width="1.4"/>
<line x1="59.15" y1="683.50" x2="225.60" y2="683.50" stroke="#231f20" stroke-width="1.4"/>
<line x1="56.75" y1="683.50" x2="59.75" y2="683.50" stroke="#231f20" stroke-width="1.0"/>
<text x="52.85" y="685.70" font-size="6.8" fill="#231f20" text-anchor="end">0.0</text>
<line x1="56.75" y1="665.50" x2="59.75" y2="665.50" stroke="#231f20" stroke-width="1.0"/>
<text x="52.85" y="668.02" font-size="6.8" fill="#231f20" text-anchor="end">0.2</text>
<line x1="56.75" y1="648.50" x2="59.75" y2="648.50" stroke="#231f20" stroke-width="1.0"/>
<text x="52.85" y="650.34" font-size="6.8" fill="#231f20" text-anchor="end">0.4</text>
<line x1="56.75" y1="630.50" x2="59.75" y2="630.50" stroke="#231f20" stroke-width="1.0"/>
<text x="52.85" y="632.66" font-size="6.8" fill="#231f20" text-anchor="end">0.6</text>
<line x1="56.75" y1="612.50" x2="59.75" y2="612.50" stroke="#231f20" stroke-width="1.0"/>
<text x="52.85" y="614.98" font-size="6.8" fill="#231f20" text-anchor="end">0.8</text>
<line x1="56.75" y1="595.50" x2="59.75" y2="595.50" stroke="#231f20" stroke-width="1.0"/>
<text x="52.85" y="597.30" font-size="6.8" fill="#231f20" text-anchor="end">1.0</text>
<line x1="59.50" y1="683.40" x2="59.50" y2="686.40" stroke="#231f20" stroke-width="1.0"/>
<text x="59.75" y="696.00" font-size="6.6" fill="#231f20" text-anchor="middle">0</text>
<line x1="71.50" y1="683.40" x2="71.50" y2="686.40" stroke="#231f20" stroke-width="1.0"/>
<text x="71.38" y="696.00" font-size="6.6" fill="#231f20" text-anchor="middle">5</text>
<line x1="83.50" y1="683.40" x2="83.50" y2="686.40" stroke="#231f20" stroke-width="1.0"/>
<text x="83.00" y="696.00" font-size="6.6" fill="#231f20" text-anchor="middle">10</text>
<line x1="94.50" y1="683.40" x2="94.50" y2="686.40" stroke="#231f20" stroke-width="1.0"/>
<text x="94.62" y="696.00" font-size="6.6" fill="#231f20" text-anchor="middle">15</text>
<line x1="106.50" y1="683.40" x2="106.50" y2="686.40" stroke="#231f20" stroke-width="1.0"/>
<text x="106.25" y="696.00" font-size="6.6" fill="#231f20" text-anchor="middle">20</text>
<line x1="117.50" y1="683.40" x2="117.50" y2="686.40" stroke="#231f20" stroke-width="1.0"/>
<text x="117.88" y="696.00" font-size="6.6" fill="#231f20" text-anchor="middle">25</text>
<line x1="129.50" y1="683.40" x2="129.50" y2="686.40" stroke="#231f20" stroke-width="1.0"/>
<text x="129.50" y="696.00" font-size="6.6" fill="#231f20" text-anchor="middle">30</text>
<line x1="141.50" y1="683.40" x2="141.50" y2="686.40" stroke="#231f20" stroke-width="1.0"/>
<text x="141.12" y="696.00" font-size="6.6" fill="#231f20" text-anchor="middle">35</text>
<line x1="152.50" y1="683.40" x2="152.50" y2="686.40" stroke="#231f20" stroke-width="1.0"/>
<text x="152.75" y="696.00" font-size="6.6" fill="#231f20" text-anchor="middle">40</text>
<line x1="164.50" y1="683.40" x2="164.50" y2="686.40" stroke="#231f20" stroke-width="1.0"/>
<text x="164.38" y="696.00" font-size="6.6" fill="#231f20" text-anchor="middle">45</text>
<line x1="176.50" y1="683.40" x2="176.50" y2="686.40" stroke="#231f20" stroke-width="1.0"/>
<text x="176.00" y="696.00" font-size="6.6" fill="#231f20" text-anchor="middle">50</text>
<line x1="187.50" y1="683.40" x2="187.50" y2="686.40" stroke="#231f20" stroke-width="1.0"/>
<text x="187.62" y="696.00" font-size="6.6" fill="#231f20" text-anchor="middle">55</text>
<line x1="199.50" y1="683.40" x2="199.50" y2="686.40" stroke="#231f20" stroke-width="1.0"/>
<text x="199.25" y="696.00" font-size="6.6" fill="#231f20" text-anchor="middle">60</text>
<line x1="210.50" y1="683.40" x2="210.50" y2="686.40" stroke="#231f20" stroke-width="1.0"/>
<text x="210.88" y="696.00" font-size="6.6" fill="#231f20" text-anchor="middle">65</text>
<line x1="222.50" y1="683.40" x2="222.50" y2="686.40" stroke="#231f20" stroke-width="1.0"/>
<text x="222.50" y="696.00" font-size="6.6" fill="#231f20" text-anchor="middle">70</text>
<text x="112.80" y="709.40" font-size="9.0" fill="#231f20" textLength="59.90" lengthAdjust="spacingAndGlyphs" font-weight="bold">Months from alloHCT</text>
<text x="27.10" y="667.80" font-size="8.6" fill="#231f20" textLength="60.00" lengthAdjust="spacingAndGlyphs" font-weight="bold" transform="rotate(-90 27.10 667.80)">Cumulative incidence</text>
<text x="37.50" y="652.20" font-size="8.6" fill="#231f20" textLength="28.20" lengthAdjust="spacingAndGlyphs" font-weight="bold" transform="rotate(-90 37.50 652.20)">of relapse</text>
<text x="134.70" y="582.00" font-size="6.3" fill="#231f20" textLength="59.70" lengthAdjust="spacingAndGlyphs">Cumulative incidence</text>
<text x="108.10" y="592.60" font-size="6.3" fill="#231f20" textLength="25.40" lengthAdjust="spacingAndGlyphs">Events/N</text>
<text x="150.10" y="592.60" font-size="6.3" fill="#231f20" textLength="25.00" lengthAdjust="spacingAndGlyphs">(95% CI)</text>
<text x="198.30" y="592.60" font-size="6.3" fill="#231f20" textLength="35.90" lengthAdjust="spacingAndGlyphs">HR (95% CI)</text>
<text x="79.30" y="603.80" font-size="6.3" fill="#bd1f40" textLength="25.40" lengthAdjust="spacingAndGlyphs">CPX-351</text>
<text x="111.70" y="603.90" font-size="6.3" fill="#bd1f40" textLength="16.90" lengthAdjust="spacingAndGlyphs">15/52</text>
<text x="140.40" y="603.90" font-size="6.3" fill="#bd1f40" textLength="47.90" lengthAdjust="spacingAndGlyphs">0.29 (0.17, 0.42)</text>
<text x="79.30" y="614.80" font-size="6.3" fill="#2e5990" textLength="12.20" lengthAdjust="spacingAndGlyphs">7+3</text>
<text x="112.10" y="614.70" font-size="6.3" fill="#2e5990" textLength="16.80" lengthAdjust="spacingAndGlyphs">16/39</text>
<text x="140.40" y="614.70" font-size="6.3" fill="#2e5990" textLength="47.90" lengthAdjust="spacingAndGlyphs">0.41 (0.26, 0.56)</text>
<text x="194.55" y="609.80" font-size="6.3" fill="#231f20" textLength="47.15" lengthAdjust="spacingAndGlyphs">0.69 (0.38, 1.25)</text>
<text x="31.05" y="714.30" font-size="6.5" fill="#231f20" textLength="19.15" lengthAdjust="spacingAndGlyphs">At risk</text>
<text x="21.80" y="725.90" font-size="6.5" fill="#bd1f40" textLength="28.40" lengthAdjust="spacingAndGlyphs">CPX-351</text>
<text x="36.80" y="736.60" font-size="6.5" fill="#2e5990" textLength="12.90" lengthAdjust="spacingAndGlyphs">7+3</text>
<text x="59.75" y="725.90" font-size="6.5" fill="#bd1f40" text-anchor="middle">52</text>
<text x="59.75" y="736.60" font-size="6.5" fill="#2e5990" text-anchor="middle">39</text>
<text x="71.38" y="725.90" font-size="6.5" fill="#bd1f40" text-anchor="middle">33</text>
<text x="71.38" y="736.60" font-size="6.5" fill="#2e5990" text-anchor="middle">18</text>
<text x="83.00" y="725.90" font-size="6.5" fill="#bd1f40" text-anchor="middle">28</text>
<text x="83.00" y="736.60" font-size="6.5" fill="#2e5990" text-anchor="middle">13</text>
<text x="94.62" y="725.90" font-size="6.5" fill="#bd1f40" text-anchor="middle">28</text>
<text x="94.62" y="736.60" font-size="6.5" fill="#2e5990" text-anchor="middle">10</text>
<text x="106.25" y="725.90" font-size="6.5" fill="#bd1f40" text-anchor="middle">26</text>
<text x="106.25" y="736.60" font-size="6.5" fill="#2e5990" text-anchor="middle">9</text>
<text x="117.88" y="725.90" font-size="6.5" fill="#bd1f40" text-anchor="middle">26</text>
<text x="117.88" y="736.60" font-size="6.5" fill="#2e5990" text-anchor="middle">8</text>
<text x="129.50" y="725.90" font-size="6.5" fill="#bd1f40" text-anchor="middle">23</text>
<text x="129.50" y="736.60" font-size="6.5" fill="#2e5990" text-anchor="middle">8</text>
<text x="141.12" y="725.90" font-size="6.5" fill="#bd1f40" text-anchor="middle">23</text>
<text x="141.12" y="736.60" font-size="6.5" fill="#2e5990" text-anchor="middle">8</text>
<text x="152.75" y="725.90" font-size="6.5" fill="#bd1f40" text-anchor="middle">22</text>
<text x="152.75" y="736.60" font-size="6.5" fill="#2e5990" text-anchor="middle">8</text>
<text x="164.38" y="725.90" font-size="6.5" fill="#bd1f40" text-anchor="middle">21</text>
<text x="164.38" y="736.60" font-size="6.5" fill="#2e5990" text-anchor="middle">8</text>
<text x="176.00" y="725.90" font-size="6.5" fill="#bd1f40" text-anchor="middle">19</text>
<text x="176.00" y="736.60" font-size="6.5" fill="#2e5990" text-anchor="middle">6</text>
<text x="187.62" y="725.90" font-size="6.5" fill="#bd1f40" text-anchor="middle">14</text>
<text x="187.62" y="736.60" font-size="6.5" fill="#2e5990" text-anchor="middle">6</text>
<text x="199.25" y="725.90" font-size="6.5" fill="#bd1f40" text-anchor="middle">7</text>
<text x="199.25" y="736.60" font-size="6.5" fill="#2e5990" text-anchor="middle">1</text>
<text x="210.88" y="725.90" font-size="6.5" fill="#bd1f40" text-anchor="middle">1</text>
<text x="210.88" y="736.60" font-size="6.5" fill="#2e5990" text-anchor="middle">1</text>
<text x="222.50" y="725.90" font-size="6.5" fill="#bd1f40" text-anchor="middle">1</text>
<text x="222.50" y="736.60" font-size="6.5" fill="#2e5990" text-anchor="middle">1</text>
<path d="M61.50,683.50 L61.50,649.50 L76.50,649.50 L76.50,647.50 L195.50,647.50" stroke="#2e5990" stroke-width="1.1" fill="none"/>
<path d="M62.50,683.50 L62.50,663.50 L63.50,663.50 H66.50 V661.50 H68.50 V660.50 H71.50 V658.50 L211.50,658.50" stroke="#bd1f40" stroke-width="1.1" fill="none"/>
<line x1="184.50" y1="644.20" x2="184.50" y2="647.10" stroke="#2e5990" stroke-width="0.9"/>
<line x1="185.50" y1="644.20" x2="185.50" y2="647.10" stroke="#2e5990" stroke-width="0.9"/>
<line x1="187.50" y1="644.20" x2="187.50" y2="647.10" stroke="#2e5990" stroke-width="0.9"/>
<line x1="190.50" y1="644.20" x2="190.50" y2="647.10" stroke="#2e5990" stroke-width="0.9"/>
<line x1="192.50" y1="644.20" x2="192.50" y2="647.10" stroke="#2e5990" stroke-width="0.9"/>
<line x1="194.50" y1="644.20" x2="194.50" y2="647.10" stroke="#2e5990" stroke-width="0.9"/>
<line x1="195.50" y1="644.20" x2="195.50" y2="647.10" stroke="#2e5990" stroke-width="0.9"/>
<line x1="81.50" y1="655.00" x2="81.50" y2="658.10" stroke="#bd1f40" stroke-width="0.9"/>
<line x1="123.50" y1="655.00" x2="123.50" y2="658.10" stroke="#bd1f40" stroke-width="0.9"/>
<line x1="124.50" y1="655.00" x2="124.50" y2="658.10" stroke="#bd1f40" stroke-width="0.9"/>
<line x1="151.50" y1="655.00" x2="151.50" y2="658.10" stroke="#bd1f40" stroke-width="0.9"/>
<line x1="171.50" y1="655.00" x2="171.50" y2="658.10" stroke="#bd1f40" stroke-width="0.9"/>
<line x1="183.50" y1="655.00" x2="183.50" y2="658.10" stroke="#bd1f40" stroke-width="0.9"/>
<line x1="187.50" y1="655.00" x2="187.50" y2="658.10" stroke="#bd1f40" stroke-width="0.9"/>
<line x1="188.50" y1="655.00" x2="188.50" y2="658.10" stroke="#bd1f40" stroke-width="0.9"/>
<line x1="195.50" y1="655.00" x2="195.50" y2="658.10" stroke="#bd1f40" stroke-width="0.9"/>
<line x1="196.50" y1="655.00" x2="196.50" y2="658.10" stroke="#bd1f40" stroke-width="0.9"/>
<line x1="197.50" y1="655.00" x2="197.50" y2="658.10" stroke="#bd1f40" stroke-width="0.9"/>
<line x1="198.50" y1="655.00" x2="198.50" y2="658.10" stroke="#bd1f40" stroke-width="0.9"/>
<line x1="200.50" y1="655.00" x2="200.50" y2="658.10" stroke="#bd1f40" stroke-width="0.9"/>
<line x1="201.50" y1="655.00" x2="201.50" y2="658.10" stroke="#bd1f40" stroke-width="0.9"/>
<line x1="210.50" y1="655.00" x2="210.50" y2="658.10" stroke="#bd1f40" stroke-width="0.9"/>
<line x1="211.50" y1="655.00" x2="211.50" y2="658.10" stroke="#bd1f40" stroke-width="0.9"/>
<text x="258.60" y="575.60" font-size="12.2" fill="#000" font-weight="bold">D</text>
<line x1="309.50" y1="594.90" x2="309.50" y2="686.80" stroke="#231f20" stroke-width="1.4"/>
<line x1="309.15" y1="686.50" x2="475.60" y2="686.50" stroke="#231f20" stroke-width="1.4"/>
<line x1="306.75" y1="686.50" x2="309.75" y2="686.50" stroke="#231f20" stroke-width="1.0"/>
<text x="302.85" y="688.60" font-size="7.072" fill="#231f20" text-anchor="end">0.0</text>
<line x1="306.75" y1="668.50" x2="309.75" y2="668.50" stroke="#231f20" stroke-width="1.0"/>
<text x="302.85" y="670.92" font-size="7.072" fill="#231f20" text-anchor="end">0.2</text>
<line x1="306.75" y1="650.50" x2="309.75" y2="650.50" stroke="#231f20" stroke-width="1.0"/>
<text x="302.85" y="653.24" font-size="7.072" fill="#231f20" text-anchor="end">0.4</text>
<line x1="306.75" y1="633.50" x2="309.75" y2="633.50" stroke="#231f20" stroke-width="1.0"/>
<text x="302.85" y="635.56" font-size="7.072" fill="#231f20" text-anchor="end">0.6</text>
<line x1="306.75" y1="615.50" x2="309.75" y2="615.50" stroke="#231f20" stroke-width="1.0"/>
<text x="302.85" y="617.88" font-size="7.072" fill="#231f20" text-anchor="end">0.8</text>
<line x1="306.75" y1="597.50" x2="309.75" y2="597.50" stroke="#231f20" stroke-width="1.0"/>
<text x="302.85" y="600.20" font-size="7.072" fill="#231f20" text-anchor="end">1.0</text>
<line x1="309.50" y1="686.30" x2="309.50" y2="689.30" stroke="#231f20" stroke-width="1.0"/>
<text x="309.75" y="698.30" font-size="7.0" fill="#231f20" text-anchor="middle">0</text>
<line x1="321.50" y1="686.30" x2="321.50" y2="689.30" stroke="#231f20" stroke-width="1.0"/>
<text x="321.38" y="698.30" font-size="7.0" fill="#231f20" text-anchor="middle">5</text>
<line x1="333.50" y1="686.30" x2="333.50" y2="689.30" stroke="#231f20" stroke-width="1.0"/>
<text x="333.00" y="698.30" font-size="7.0" fill="#231f20" text-anchor="middle">10</text>
<line x1="344.50" y1="686.30" x2="344.50" y2="689.30" stroke="#231f20" stroke-width="1.0"/>
<text x="344.62" y="698.30" font-size="7.0" fill="#231f20" text-anchor="middle">15</text>
<line x1="356.50" y1="686.30" x2="356.50" y2="689.30" stroke="#231f20" stroke-width="1.0"/>
<text x="356.25" y="698.30" font-size="7.0" fill="#231f20" text-anchor="middle">20</text>
<line x1="367.50" y1="686.30" x2="367.50" y2="689.30" stroke="#231f20" stroke-width="1.0"/>
<text x="367.88" y="698.30" font-size="7.0" fill="#231f20" text-anchor="middle">25</text>
<line x1="379.50" y1="686.30" x2="379.50" y2="689.30" stroke="#231f20" stroke-width="1.0"/>
<text x="379.50" y="698.30" font-size="7.0" fill="#231f20" text-anchor="middle">30</text>
<line x1="391.50" y1="686.30" x2="391.50" y2="689.30" stroke="#231f20" stroke-width="1.0"/>
<text x="391.12" y="698.30" font-size="7.0" fill="#231f20" text-anchor="middle">35</text>
<line x1="402.50" y1="686.30" x2="402.50" y2="689.30" stroke="#231f20" stroke-width="1.0"/>
<text x="402.75" y="698.30" font-size="7.0" fill="#231f20" text-anchor="middle">40</text>
<line x1="414.50" y1="686.30" x2="414.50" y2="689.30" stroke="#231f20" stroke-width="1.0"/>
<text x="414.38" y="698.30" font-size="7.0" fill="#231f20" text-anchor="middle">45</text>
<line x1="426.50" y1="686.30" x2="426.50" y2="689.30" stroke="#231f20" stroke-width="1.0"/>
<text x="426.00" y="698.30" font-size="7.0" fill="#231f20" text-anchor="middle">50</text>
<line x1="437.50" y1="686.30" x2="437.50" y2="689.30" stroke="#231f20" stroke-width="1.0"/>
<text x="437.62" y="698.30" font-size="7.0" fill="#231f20" text-anchor="middle">55</text>
<line x1="449.50" y1="686.30" x2="449.50" y2="689.30" stroke="#231f20" stroke-width="1.0"/>
<text x="449.25" y="698.30" font-size="7.0" fill="#231f20" text-anchor="middle">60</text>
<line x1="460.50" y1="686.30" x2="460.50" y2="689.30" stroke="#231f20" stroke-width="1.0"/>
<text x="460.88" y="698.30" font-size="7.0" fill="#231f20" text-anchor="middle">65</text>
<line x1="472.50" y1="686.30" x2="472.50" y2="689.30" stroke="#231f20" stroke-width="1.0"/>
<text x="472.50" y="698.30" font-size="7.0" fill="#231f20" text-anchor="middle">70</text>
<text x="362.80" y="710.00" font-size="9.0" fill="#231f20" textLength="59.90" lengthAdjust="spacingAndGlyphs" font-weight="bold">Months from alloHCT</text>
<text x="276.00" y="670.80" font-size="8.6" fill="#231f20" textLength="61.20" lengthAdjust="spacingAndGlyphs" font-weight="bold" transform="rotate(-90 276.00 670.80)">Cumulative incidence</text>
<text x="287.40" y="675.00" font-size="8.6" fill="#231f20" textLength="69.00" lengthAdjust="spacingAndGlyphs" font-weight="bold" transform="rotate(-90 287.40 675.00)">of non-relapse mortality</text>
<text x="385.60" y="582.00" font-size="6.8" fill="#231f20" textLength="64.60" lengthAdjust="spacingAndGlyphs">Cumulative incidence</text>
<text x="357.70" y="592.70" font-size="6.8" fill="#231f20" textLength="27.80" lengthAdjust="spacingAndGlyphs">Events/N</text>
<text x="402.10" y="592.80" font-size="6.8" fill="#231f20" textLength="27.00" lengthAdjust="spacingAndGlyphs">(95% CI)</text>
<text x="458.05" y="592.90" font-size="6.8" fill="#231f20" textLength="38.40" lengthAdjust="spacingAndGlyphs">HR (95% CI)</text>
<text x="328.80" y="604.00" font-size="6.8" fill="#bd1f40" textLength="27.80" lengthAdjust="spacingAndGlyphs">CPX-351</text>
<text x="362.30" y="604.00" font-size="6.8" fill="#bd1f40" textLength="17.70" lengthAdjust="spacingAndGlyphs">15/52</text>
<text x="391.55" y="604.00" font-size="6.8" fill="#bd1f40" textLength="51.65" lengthAdjust="spacingAndGlyphs">0.41 (0.25, 0.57)</text>
<text x="328.80" y="614.80" font-size="6.8" fill="#2e5990" textLength="13.20" lengthAdjust="spacingAndGlyphs">7+3</text>
<text x="362.30" y="614.60" font-size="6.8" fill="#2e5990" textLength="17.70" lengthAdjust="spacingAndGlyphs">16/39</text>
<text x="391.55" y="614.60" font-size="6.8" fill="#2e5990" textLength="51.65" lengthAdjust="spacingAndGlyphs">0.69 (0.45, 0.84)</text>
<text x="452.30" y="609.60" font-size="6.8" fill="#231f20" textLength="50.40" lengthAdjust="spacingAndGlyphs">0.42 (0.21, 0.86)</text>
<text x="280.30" y="714.50" font-size="6.5" fill="#231f20" textLength="18.65" lengthAdjust="spacingAndGlyphs">At risk</text>
<text x="270.30" y="725.60" font-size="6.5" fill="#bd1f40" textLength="27.90" lengthAdjust="spacingAndGlyphs">CPX-351</text>
<text x="286.05" y="736.30" font-size="6.5" fill="#2e5990" textLength="12.90" lengthAdjust="spacingAndGlyphs">7+3</text>
<text x="309.75" y="725.60" font-size="6.5" fill="#bd1f40" text-anchor="middle">52</text>
<text x="309.75" y="736.30" font-size="6.5" fill="#2e5990" text-anchor="middle">39</text>
<text x="321.38" y="725.60" font-size="6.5" fill="#bd1f40" text-anchor="middle">33</text>
<text x="321.38" y="736.30" font-size="6.5" fill="#2e5990" text-anchor="middle">18</text>
<text x="333.00" y="725.60" font-size="6.5" fill="#bd1f40" text-anchor="middle">28</text>
<text x="333.00" y="736.30" font-size="6.5" fill="#2e5990" text-anchor="middle">13</text>
<text x="344.62" y="725.60" font-size="6.5" fill="#bd1f40" text-anchor="middle">28</text>
<text x="344.62" y="736.30" font-size="6.5" fill="#2e5990" text-anchor="middle">10</text>
<text x="356.25" y="725.60" font-size="6.5" fill="#bd1f40" text-anchor="middle">26</text>
<text x="356.25" y="736.30" font-size="6.5" fill="#2e5990" text-anchor="middle">9</text>
<text x="367.88" y="725.60" font-size="6.5" fill="#bd1f40" text-anchor="middle">26</text>
<text x="367.88" y="736.30" font-size="6.5" fill="#2e5990" text-anchor="middle">8</text>
<text x="379.50" y="725.60" font-size="6.5" fill="#bd1f40" text-anchor="middle">23</text>
<text x="379.50" y="736.30" font-size="6.5" fill="#2e5990" text-anchor="middle">8</text>
<text x="391.12" y="725.60" font-size="6.5" fill="#bd1f40" text-anchor="middle">23</text>
<text x="391.12" y="736.30" font-size="6.5" fill="#2e5990" text-anchor="middle">8</text>
<text x="402.75" y="725.60" font-size="6.5" fill="#bd1f40" text-anchor="middle">22</text>
<text x="402.75" y="736.30" font-size="6.5" fill="#2e5990" text-anchor="middle">8</text>
<text x="414.38" y="725.60" font-size="6.5" fill="#bd1f40" text-anchor="middle">21</text>
<text x="414.38" y="736.30" font-size="6.5" fill="#2e5990" text-anchor="middle">8</text>
<text x="426.00" y="725.60" font-size="6.5" fill="#bd1f40" text-anchor="middle">19</text>
<text x="426.00" y="736.30" font-size="6.5" fill="#2e5990" text-anchor="middle">8</text>
<text x="437.62" y="725.60" font-size="6.5" fill="#bd1f40" text-anchor="middle">14</text>
<text x="437.62" y="736.30" font-size="6.5" fill="#2e5990" text-anchor="middle">6</text>
<text x="449.25" y="725.60" font-size="6.5" fill="#bd1f40" text-anchor="middle">7</text>
<text x="449.25" y="736.30" font-size="6.5" fill="#2e5990" text-anchor="middle">1</text>
<text x="460.88" y="725.60" font-size="6.5" fill="#bd1f40" text-anchor="middle">1</text>
<text x="460.88" y="736.30" font-size="6.5" fill="#2e5990" text-anchor="middle">1</text>
<text x="472.50" y="725.60" font-size="6.5" fill="#bd1f40" text-anchor="middle">1</text>
<text x="472.50" y="736.30" font-size="6.5" fill="#2e5990" text-anchor="middle">1</text>
<path d="M309.50,686.50 L310.50,686.50 L310.50,679.50 L313.50,679.50 H313.50 V677.50 H313.50 V675.50 H314.50 V672.50 H314.50 V670.50 H314.50 V668.50 L316.50,668.50 L316.50,664.50 L320.50,664.50 L320.50,660.50 L324.50,660.50 L324.50,656.50 H325.50 V653.50 L326.50,653.50 H327.50 V650.50 H328.50 V648.50 H328.50 V645.50 L333.50,645.50 L333.50,641.50 L339.50,641.50 H340.50 V639.50 H340.50 V637.50 L343.50,637.50 L343.50,633.50 L348.50,633.50 L348.50,629.50 L366.50,629.50 L366.50,625.50 L446.50,625.50" stroke="#2e5990" stroke-width="1.1" fill="none"/>
<path d="M309.50,686.50 L312.50,686.50 H313.50 V685.50 H313.50 V683.50 H314.50 V682.50 H314.50 V680.50 H315.50 V679.50 H316.50 V677.50 H318.50 V675.50 H320.50 V673.50 H322.50 V672.50 H323.50 V670.50 H326.50 V668.50 H330.50 V666.50 H331.50 V665.50 L346.50,665.50 L346.50,663.50 H350.50 V661.50 L350.50,660.50 L368.50,660.50 L368.50,657.50 L378.50,657.50 L378.50,655.50 L410.50,655.50 L410.50,652.50 L416.50,652.50 L416.50,649.50 L461.50,649.50" stroke="#bd1f40" stroke-width="1.1" fill="none"/>
<line x1="435.50" y1="622.60" x2="435.50" y2="625.25" stroke="#2e5990" stroke-width="0.9"/>
<line x1="436.50" y1="622.60" x2="436.50" y2="625.25" stroke="#2e5990" stroke-width="0.9"/>
<line x1="438.50" y1="622.60" x2="438.50" y2="625.25" stroke="#2e5990" stroke-width="0.9"/>
<line x1="440.50" y1="622.60" x2="440.50" y2="625.25" stroke="#2e5990" stroke-width="0.9"/>
<line x1="443.50" y1="622.60" x2="443.50" y2="625.25" stroke="#2e5990" stroke-width="0.9"/>
<line x1="445.50" y1="622.60" x2="445.50" y2="625.25" stroke="#2e5990" stroke-width="0.9"/>
<line x1="445.50" y1="622.60" x2="445.50" y2="625.25" stroke="#2e5990" stroke-width="0.9"/>
<line x1="330.50" y1="663.25" x2="330.50" y2="666.25" stroke="#bd1f40" stroke-width="0.9"/>
<line x1="373.50" y1="654.75" x2="373.50" y2="657.75" stroke="#bd1f40" stroke-width="0.9"/>
<line x1="401.50" y1="652.25" x2="401.50" y2="655.25" stroke="#bd1f40" stroke-width="0.9"/>
<line x1="421.50" y1="646.40" x2="421.50" y2="649.40" stroke="#bd1f40" stroke-width="0.9"/>
<line x1="433.50" y1="646.40" x2="433.50" y2="649.40" stroke="#bd1f40" stroke-width="0.9"/>
<line x1="437.50" y1="646.40" x2="437.50" y2="649.40" stroke="#bd1f40" stroke-width="0.9"/>
<line x1="438.50" y1="646.40" x2="438.50" y2="649.40" stroke="#bd1f40" stroke-width="0.9"/>
<line x1="445.50" y1="646.40" x2="445.50" y2="649.40" stroke="#bd1f40" stroke-width="0.9"/>
<line x1="446.50" y1="646.40" x2="446.50" y2="649.40" stroke="#bd1f40" stroke-width="0.9"/>
<line x1="447.50" y1="646.40" x2="447.50" y2="649.40" stroke="#bd1f40" stroke-width="0.9"/>
<line x1="448.50" y1="646.40" x2="448.50" y2="649.40" stroke="#bd1f40" stroke-width="0.9"/>
<line x1="450.50" y1="646.40" x2="450.50" y2="649.40" stroke="#bd1f40" stroke-width="0.9"/>
<line x1="451.50" y1="646.40" x2="451.50" y2="649.40" stroke="#bd1f40" stroke-width="0.9"/>
<line x1="461.50" y1="646.40" x2="461.50" y2="649.40" stroke="#bd1f40" stroke-width="0.9"/>
<line x1="461.50" y1="646.40" x2="461.50" y2="649.40" stroke="#bd1f40" stroke-width="0.9"/>
<rect x="0.5" y="0.5" width="519" height="745" fill="none" stroke="#333" stroke-width="1.2"/>
</svg>
</body></html>
